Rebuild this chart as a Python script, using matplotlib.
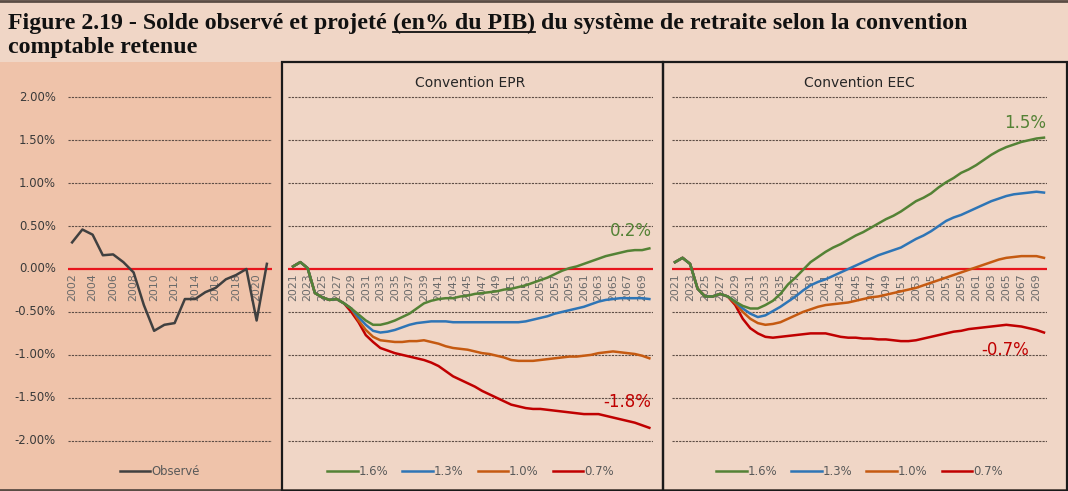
import matplotlib.pyplot as plt
from matplotlib.lines import Line2D
from matplotlib.patches import Rectangle

# observed balance (% of GDP)
obs_years = list(range(2002, 2022))
obs_vals = [0.31, 0.46, 0.40, 0.16, 0.17, 0.08, -0.04, -0.42, -0.72, -0.65,
            -0.63, -0.35, -0.35, -0.27, -0.22, -0.12, -0.07, 0.00, -0.60, 0.06]

proj_years = list(range(2021, 2071))

# Convention EPR
epr_start = [0.03, 0.08, 0.01, -0.28, -0.33, -0.36, -0.35, -0.40]
epr_16 = epr_start + [-0.46, -0.53, -0.60, -0.65, -0.65, -0.63, -0.60, -0.56, -0.52, -0.46,
                      -0.40, -0.37, -0.35, -0.34, -0.34, -0.32, -0.31, -0.29, -0.28, -0.27,
                      -0.26, -0.24, -0.23, -0.21, -0.19, -0.16, -0.13, -0.10, -0.06, -0.02,
                      0.01, 0.03, 0.06, 0.09, 0.12, 0.15, 0.17, 0.19, 0.21, 0.22, 0.22, 0.24]
epr_13 = epr_start + [-0.46, -0.56, -0.65, -0.72, -0.74, -0.73, -0.71, -0.68, -0.65, -0.63,
                      -0.62, -0.61, -0.61, -0.61, -0.62, -0.62, -0.62, -0.62, -0.62, -0.62,
                      -0.62, -0.62, -0.62, -0.62, -0.61, -0.59, -0.57, -0.55, -0.52, -0.50,
                      -0.48, -0.46, -0.44, -0.41, -0.38, -0.36, -0.35, -0.34, -0.34, -0.34, -0.34, -0.35]
epr_10 = epr_start + [-0.46, -0.60, -0.71, -0.79, -0.83, -0.84, -0.85, -0.85, -0.84, -0.84,
                      -0.83, -0.85, -0.87, -0.90, -0.92, -0.93, -0.94, -0.96, -0.98, -0.99,
                      -1.01, -1.03, -1.06, -1.07, -1.07, -1.07, -1.06, -1.05, -1.04, -1.03,
                      -1.02, -1.02, -1.01, -1.00, -0.98, -0.97, -0.96, -0.97, -0.98, -0.99, -1.01, -1.04]
epr_07 = epr_start + [-0.50, -0.62, -0.77, -0.85, -0.92, -0.95, -0.98, -1.00, -1.02, -1.04,
                      -1.06, -1.09, -1.13, -1.19, -1.25, -1.29, -1.33, -1.37, -1.42, -1.46,
                      -1.50, -1.54, -1.58, -1.60, -1.62, -1.63, -1.63, -1.64, -1.65, -1.66,
                      -1.67, -1.68, -1.69, -1.69, -1.69, -1.71, -1.73, -1.75, -1.77, -1.79, -1.82, -1.85]

# Convention EEC
eec_start = [0.08, 0.13, 0.06, -0.23, -0.32, -0.32, -0.29, -0.32]
eec_16 = eec_start + [-0.38, -0.43, -0.46, -0.46, -0.42, -0.37, -0.29, -0.18, -0.10, -0.01,
                      0.08, 0.14, 0.20, 0.25, 0.29, 0.34, 0.39, 0.43, 0.48, 0.53,
                      0.58, 0.62, 0.67, 0.73, 0.79, 0.83, 0.88, 0.95, 1.01, 1.06,
                      1.12, 1.16, 1.21, 1.27, 1.33, 1.38, 1.42, 1.45, 1.48, 1.50, 1.52, 1.53]
eec_13 = eec_start + [-0.38, -0.46, -0.52, -0.56, -0.54, -0.49, -0.44, -0.38, -0.32, -0.25,
                      -0.19, -0.15, -0.12, -0.08, -0.04, 0.00, 0.04, 0.08, 0.12, 0.16,
                      0.19, 0.22, 0.25, 0.30, 0.35, 0.39, 0.44, 0.50, 0.56, 0.60,
                      0.63, 0.67, 0.71, 0.75, 0.79, 0.82, 0.85, 0.87, 0.88, 0.89, 0.90, 0.89]
eec_10 = eec_start + [-0.40, -0.50, -0.58, -0.63, -0.65, -0.64, -0.62, -0.58, -0.54, -0.50,
                      -0.47, -0.44, -0.42, -0.41, -0.40, -0.39, -0.37, -0.35, -0.33, -0.32,
                      -0.30, -0.28, -0.26, -0.24, -0.22, -0.19, -0.16, -0.13, -0.10, -0.07,
                      -0.04, -0.01, 0.02, 0.05, 0.08, 0.11, 0.13, 0.14, 0.15, 0.15, 0.15, 0.13]
eec_07 = eec_start + [-0.42, -0.58, -0.69, -0.75, -0.79, -0.80, -0.79, -0.78, -0.77, -0.76,
                      -0.75, -0.75, -0.75, -0.77, -0.79, -0.80, -0.80, -0.81, -0.81, -0.82,
                      -0.82, -0.83, -0.84, -0.84, -0.83, -0.81, -0.79, -0.77, -0.75, -0.73,
                      -0.72, -0.70, -0.69, -0.68, -0.67, -0.66, -0.65, -0.66, -0.67, -0.69, -0.71, -0.74]

scen_labels = ["1.6%", "1.3%", "1.0%", "0.7%"]
scen_colors = ["#548235", "#2e75b6", "#c55a11", "#c00000"]
yticks = [2.0, 1.5, 1.0, 0.5, 0.0, -0.5, -1.0, -1.5, -2.0]
# end-of-period labels written on the chart
epr_end_labels = ["0.2%", "-1.8%"]
eec_end_labels = ["1.5%", "-0.7%"]

W, H = 1068, 491
fig = plt.figure(figsize=(W / 100, H / 100), dpi=100)
fig.patch.set_facecolor("#f0d6c6")


def px(x0, y0, x1, y1):
    # pixel box -> figure fraction [left, bottom, width, height]
    return [x0 / W, 1 - y1 / H, (x1 - x0) / W, (y1 - y0) / H]


# panel backgrounds and borders
fig.patches.append(Rectangle((0, 0), 282 / W, 1 - 62 / H, transform=fig.transFigure,
                             facecolor="#efc3aa", edgecolor="none", zorder=-5))
fig.patches.append(Rectangle((282 / W, 0), 381 / W, 1 - 62 / H, transform=fig.transFigure,
                             facecolor="none", edgecolor="#1a1a1a", lw=1.6, zorder=5))
fig.patches.append(Rectangle((663 / W, 0), 404 / W, 1 - 62 / H, transform=fig.transFigure,
                             facecolor="none", edgecolor="#1a1a1a", lw=1.6, zorder=5))
fig.add_artist(Line2D([0, 1], [1 - 1 / H, 1 - 1 / H], transform=fig.transFigure,
                      color="#5a4c44", lw=2))
fig.add_artist(Line2D([0, 1], [1 / H, 1 / H], transform=fig.transFigure,
                      color="#5a4c44", lw=2))


def style(ax, xlim):
    ax.set_facecolor("none")
    ax.set_xlim(*xlim)
    ax.set_ylim(-2.05, 2.05)
    for s in ax.spines.values():
        s.set_visible(False)
    ax.set_xticks([])
    ax.set_yticks([])
    for v in yticks:
        if v != 0:
            ax.axhline(v, color="#5e4e46", lw=0.8, ls=(0, (2, 1)), zorder=1)
    ax.axhline(0, color="#e8141c", lw=1.6, zorder=2)


def year_labels(ax, years):
    for yr in years:
        ax.text(yr, -0.05, str(yr), rotation=90, ha="center", va="top",
                fontsize=7.8, color="#6a6a6a", zorder=3)


# left panel: observed
ax0 = fig.add_axes(px(68, 93, 272, 445))
style(ax0, (2001.6, 2021.5))
ax0.plot(obs_years, obs_vals, color="#404040", lw=1.8, zorder=4)
year_labels(ax0, obs_years[::2])
for v in yticks:
    ax0.text(2001.6 - 1.2, v, "%.2f%%" % v, ha="right", va="center",
             fontsize=8.4, color="#3a3a3a")
ax0.legend(handles=[Line2D([], [], color="#404040", lw=1.8)], labels=["Observé"],
           loc="center", bbox_to_anchor=(0.45, -0.075), frameon=False, fontsize=8.4,
           handlelength=2.6, handletextpad=0.1, labelcolor="#595959")

panels = [
    ("Convention EPR", px(288, 93, 653, 445), (2020.3, 2070.5),
     [epr_16, epr_13, epr_10, epr_07]),
    ("Convention EEC", px(672, 93, 1047, 445), (2020.6, 2070.4),
     [eec_16, eec_13, eec_10, eec_07]),
]
axes = []
for title, box, xl, series in panels:
    ax = fig.add_axes(box)
    style(ax, xl)
    handles = []
    for vals, lab, col in zip(series[::-1], scen_labels[::-1], scen_colors[::-1]):
        ax.plot(proj_years, vals, color=col, lw=1.8, zorder=4)
    for lab, col in zip(scen_labels, scen_colors):
        handles.append(Line2D([], [], color=col, lw=1.8, label=lab))
    year_labels(ax, proj_years[::2])
    ax.set_title(title, fontsize=10, color="#262626", pad=4)
    ax.legend(handles=handles, loc="center", ncol=4, bbox_to_anchor=(0.5, -0.075),
              frameon=False, fontsize=8.4, handlelength=2.6, handletextpad=0.1,
              columnspacing=1.2, labelcolor="#595959")
    axes.append(ax)

# end-value annotations
ax1, ax2 = axes
ax1.text(proj_years[-1] + 0.3, epr_16[-1] + 0.1, epr_end_labels[0], ha="right", va="bottom",
         fontsize=12, color="#548235")
ax1.text(proj_years[-1] + 0.3, epr_07[-1] + 0.2, epr_end_labels[1], ha="right", va="bottom",
         fontsize=12, color="#c00000")
ax2.text(proj_years[-1] + 0.3, eec_16[-1] + 0.06, eec_end_labels[0], ha="right", va="bottom",
         fontsize=12, color="#548235")
ax2.text(proj_years[-3], eec_07[-1] - 0.1, eec_end_labels[1], ha="right", va="top",
         fontsize=12, color="#c00000")

# title with underlined part
tfont = dict(family="Liberation Serif", weight="bold", fontsize=17.2, color="#111111")
fig.canvas.draw()
r = fig.canvas.get_renderer()
parts = ["Figure 2.19 - Solde observé et projeté ", "(en% du PIB)",
         " du système de retraite selon la convention"]
x = 8
y1 = H - 29
for i, p in enumerate(parts):
    t = fig.text(x / W, y1 / H, p, ha="left", va="baseline", **tfont)
    bb = t.get_window_extent(renderer=r)
    if i == 1:
        fig.add_artist(Line2D([bb.x0 / W, bb.x1 / W], [(y1 - 3) / H, (y1 - 3) / H],
                              transform=fig.transFigure, color="#111111", lw=1.3))
    x = bb.x1
fig.text(8 / W, (H - 53) / H, "comptable retenue", ha="left", va="baseline", **tfont)

fig.savefig("out.png", dpi=100, facecolor=fig.get_facecolor())
